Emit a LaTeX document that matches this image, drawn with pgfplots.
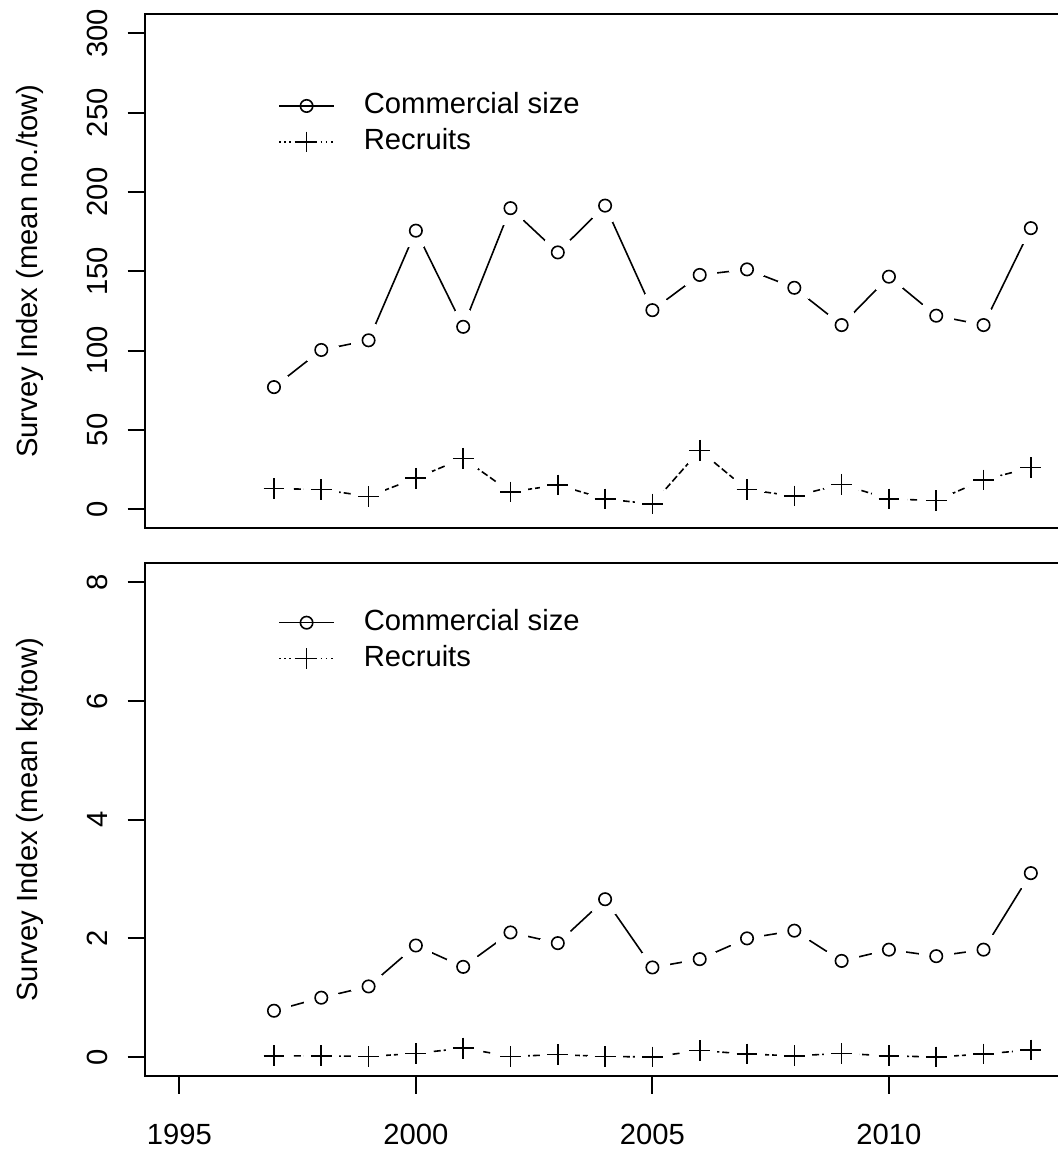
\documentclass[border=0pt]{standalone}
\usepackage{pgfplots}
\pgfplotsset{compat=1.18}
\usepackage{pgfplotstable}
\usepackage{fontspec}
\setmainfont{Liberation Sans}
\newcommand{\lf}{\fontsize{14.6pt}{17pt}\selectfont}

\pgfplotstableread{
year com rec
1997 77.0 13.1
1998 100.4 12.4
1999 106.5 8.1
2000 175.6 19.6
2001 115.0 32.1
2002 189.8 10.9
2003 161.9 15.3
2004 191.4 6.5
2005 125.5 3.3
2006 147.7 37.1
2007 151.2 12.4
2008 139.6 8.3
2009 116.1 15.7
2010 146.6 6.5
2011 122.0 5.5
2012 116.1 18.5
2013 177.2 26.2
}\topdata

\pgfplotstableread{
year com rec
1997 0.78 0.02
1998 1.00 0.02
1999 1.19 0.01
2000 1.88 0.06
2001 1.52 0.15
2002 2.10 0.01
2003 1.92 0.04
2004 2.66 0.01
2005 1.51 0.00
2006 1.65 0.11
2007 2.00 0.05
2008 2.13 0.02
2009 1.62 0.06
2010 1.81 0.02
2011 1.70 0.00
2012 1.81 0.05
2013 3.10 0.12
}\botdata

\begin{document}
\begin{tikzpicture}
\pgfplotsset{
 rstyle/.style={
  scale only axis, width=459.8pt,
  xmin=1994.28, xmax=2013.72,
  axis on top,
  axis line style={line width=1pt},
  tick style={line width=1pt, black},
  tick align=outside, major tick length=8.8pt,
  xtick pos=left, ytick pos=left,
  minor tick num=0,
  tick label style={font=\lf},
  yticklabel style={xshift=-10.2pt, rotate=90, anchor=base, inner sep=0pt},
  xticklabel style={yshift=-14.85pt, anchor=north, inner sep=0pt},
  ylabel style={font=\lf, at={(axis description cs:-0.1175,0.5)}, anchor=base, inner sep=0pt},
  legend style={font=\lf, draw=none, fill=none, inner sep=0pt, outer sep=0pt,
    column sep=14.5pt, row sep=4pt,
    nodes={inner sep=0pt, outer sep=0pt, text height=11pt, text depth=3pt}},
  legend cell align=left,
  legend image code/.code={\draw[mark repeat=2, mark phase=2, ##1] plot coordinates {(0pt,0pt) (13.75pt,0pt) (27.5pt,0pt)};},
 },
 comline/.style={line width=0.8pt, black, no markers, forget plot},
 recline/.style={line width=0.8pt, black, no markers, forget plot, dash pattern=on 3.5pt off 1.5pt},
 eraser/.style={forget plot, only marks, white, mark=*, mark size=8.6pt, mark options={draw=white, fill=white, line width=0pt}},
 commarks/.style={forget plot, only marks, black, mark=o, mark size=3.1pt, mark options={line width=0.8pt}},
 recmarks/.style={forget plot, only marks, black, mark=+, mark size=5.2pt, mark options={line width=0.8pt}},
}
\begin{axis}[rstyle,
  at={(72.65pt,311.85pt)}, anchor=south west,
  height=257pt,
  ymin=-12, ymax=312,
  xtick=\empty,
  ytick={0,50,100,150,200,250,300},
  yticklabels={0,50,100,150,200,250,300},
  ylabel={Survey Index (mean no./tow)},
  legend style={at={(axis description cs:0.1446,0.7866)}, anchor=west},
]
\addplot[comline] table[x=year,y=com]{\topdata};
\addplot[eraser] table[x=year,y=com]{\topdata};
\addplot[commarks] table[x=year,y=com]{\topdata};
\addplot[recline] table[x=year,y=rec]{\topdata};
\addplot[eraser] table[x=year,y=rec]{\topdata};
\addplot[recmarks] table[x=year,y=rec]{\topdata};
\addlegendimage{line width=0.8pt, black, mark=o, mark size=3.1pt}
\addlegendentry{Commercial size}
\addlegendimage{line width=0.8pt, black, dash pattern=on 0.8pt off 1.8pt, mark=+, mark size=5.2pt, mark options={solid}}
\addlegendentry{Recruits}
\end{axis}
\begin{axis}[rstyle,
  at={(72.65pt,38pt)}, anchor=south west,
  height=256.25pt,
  ymin=-0.32, ymax=8.32,
  xtick={1995,2000,2005,2010},
  xticklabels={1995,2000,2005,2010},
  ytick={0,2,4,6,8},
  yticklabels={0,2,4,6,8},
  ylabel={Survey Index (mean kg/tow)},
  legend style={at={(axis description cs:0.1446,0.8494)}, anchor=west},
]
\addplot[comline] table[x=year,y=com]{\botdata};
\addplot[eraser] table[x=year,y=com]{\botdata};
\addplot[commarks] table[x=year,y=com]{\botdata};
\addplot[recline] table[x=year,y=rec]{\botdata};
\addplot[eraser] table[x=year,y=rec]{\botdata};
\addplot[recmarks] table[x=year,y=rec]{\botdata};
\addlegendimage{line width=0.8pt, black, mark=o, mark size=3.1pt}
\addlegendentry{Commercial size}
\addlegendimage{line width=0.8pt, black, dash pattern=on 0.8pt off 1.8pt, mark=+, mark size=5.2pt, mark options={solid}}
\addlegendentry{Recruits}
\end{axis}
\pgfresetboundingbox
\useasboundingbox (0,0) rectangle (529pt,576pt);
\end{tikzpicture}
\end{document}
